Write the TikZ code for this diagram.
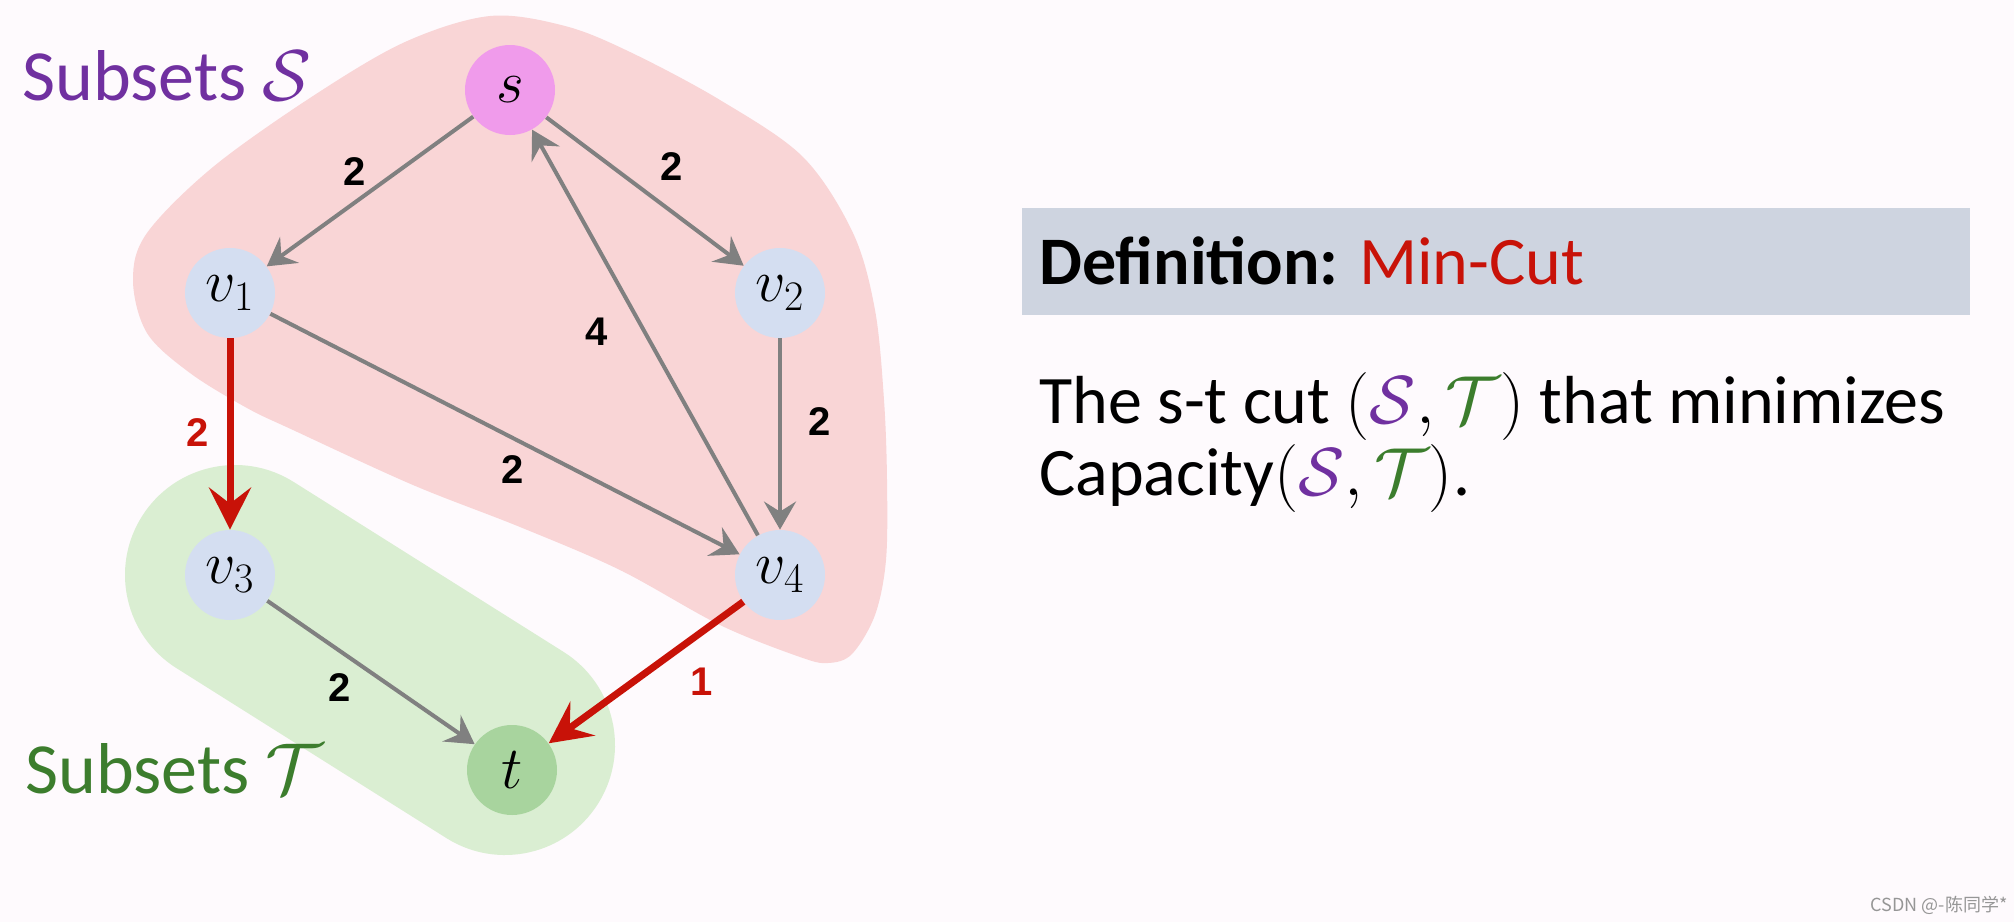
\documentclass[tikz,border=0pt]{standalone}
\usepackage{fix-cm}
\usepackage{fontspec}
\setmainfont{Carlito}
\newfontfamily\labfont{Liberation Sans}
\newfontfamily\cjkfont{Noto Sans CJK SC}
\usetikzlibrary{arrows.meta}
\definecolor{bgc}{RGB}{254,250,253}
\definecolor{pinkreg}{RGB}{249,213,214}
\definecolor{greenreg}{RGB}{218,238,210}
\definecolor{snode}{RGB}{240,155,235}
\definecolor{vnodec}{RGB}{212,222,241}
\definecolor{tnode}{RGB}{168,212,158}
\definecolor{edgegray}{RGB}{128,128,128}
\definecolor{cutred}{RGB}{200,18,8}
\definecolor{purp}{RGB}{112,48,160}
\definecolor{grn}{RGB}{60,125,45}
\definecolor{defboxc}{RGB}{206,212,224}
\definecolor{wmgray}{RGB}{150,150,150}
\begin{document}
\begin{tikzpicture}[x=0.5pt,y=-0.5pt,
  gnode/.style={circle, minimum size=45pt, inner sep=0pt, font=\fontsize{30}{30}\selectfont},
  garrow/.style={draw=edgegray, line width=2pt, -{Stealth[length=14pt,width=16pt,inset=5pt]}},
  rarrow/.style={draw=cutred, line width=3.5pt, -{Stealth[length=21pt,width=21pt,inset=8pt]}},
  elab/.style={font=\labfont\bfseries\fontsize{20}{20}\selectfont, inner sep=0pt},
  bigtext/.style={anchor=base west, inner sep=0pt, font=\fontsize{36}{36}\selectfont},
  deftext/.style={anchor=base west, inner sep=0pt, font=\fontsize{34}{34}\selectfont},
]
\useasboundingbox (0,0) rectangle (2014,922);
\fill[bgc] (0,0) rectangle (2014,922);
% regions
\fill[pinkreg] plot[smooth cycle, tension=0.55] coordinates {
  (490,16) (565,26) (630,52) (720,100) (803,157) (853,233) (875,310) (884,400)
  (887,480) (886,560) (875,615) (852,654) (828,663) (800,657) (720,625) (620,570)
  (520,527) (413,485) (293,430) (247,408) (190,373) (147,333) (133,280) (147,233)
  (213,167) (313,96) (405,42)};
\coordinate (gA) at (235,575);
\coordinate (gB) at (505,745);
\draw[greenreg, line width=110pt, line cap=round] (gA) -- (gB);
% nodes
\node[gnode, fill=snode] (s) at (510,90) {$s$};
\node[gnode, fill=vnodec] (v1) at (230,293) {$v_1$};
\node[gnode, fill=vnodec] (v2) at (780,293) {$v_2$};
\node[gnode, fill=vnodec] (v3) at (230,575) {$v_3$};
\node[gnode, fill=vnodec] (v4) at (780,575) {$v_4$};
\node[gnode, fill=tnode] (t) at (512,770) {$t$};
% edges
\draw[garrow] (s) -- (v1);
\draw[garrow] (s) -- (v2);
\draw[garrow] (v4) -- (s);
\draw[garrow] (v2) -- (v4);
\draw[garrow] (v1) -- (v4);
\draw[rarrow] (v1) -- (v3);
\draw[garrow] (v3) -- (t);
\draw[rarrow] (v4) -- (t);
% edge labels
\node[elab] (l1) at (355,172) {2};
\node[elab] (l2) at (672,167) {2};
\node[elab] (l3) at (597,332) {4};
\node[elab] (l4) at (820,422) {2};
\node[elab] (l5) at (513,470) {2};
\node[elab, text=cutred] (l6) at (198,433) {2};
\node[elab] (l7) at (340,688) {2};
\node[elab, text=cutred] (l8) at (702,682) {1};
% subset labels
\node[bigtext, text=purp] (lS) at (22,100) {Subsets $\mathcal{S}$};
\node[bigtext, text=grn] (lT) at (25,793) {Subsets $\mathcal{T}$};
% definition
\node[fill=defboxc, anchor=north west, inner sep=0pt, minimum width=474pt, minimum height=53.5pt] (defbox) at (1022,208) {};
\node[deftext] (deft) at (1039,284) {\textbf{Definition:} \textcolor{cutred}{Min-Cut}};
\node[deftext] (body1) at (1039,423) {The s-t cut $(\textcolor{purp}{\mathcal{S}}, \textcolor{grn}{\mathcal{T}})$ that minimizes};
\node[deftext] (body2) at (1039,495) {Capacity$(\textcolor{purp}{\mathcal{S}}, \textcolor{grn}{\mathcal{T}})$.};
% watermark
\node[anchor=base east, inner sep=0pt, text=wmgray, font=\cjkfont\fontsize{9}{9}\selectfont] (wm) at (2008,911) {CSDN @-陈同学*};
\end{tikzpicture}
\end{document}
